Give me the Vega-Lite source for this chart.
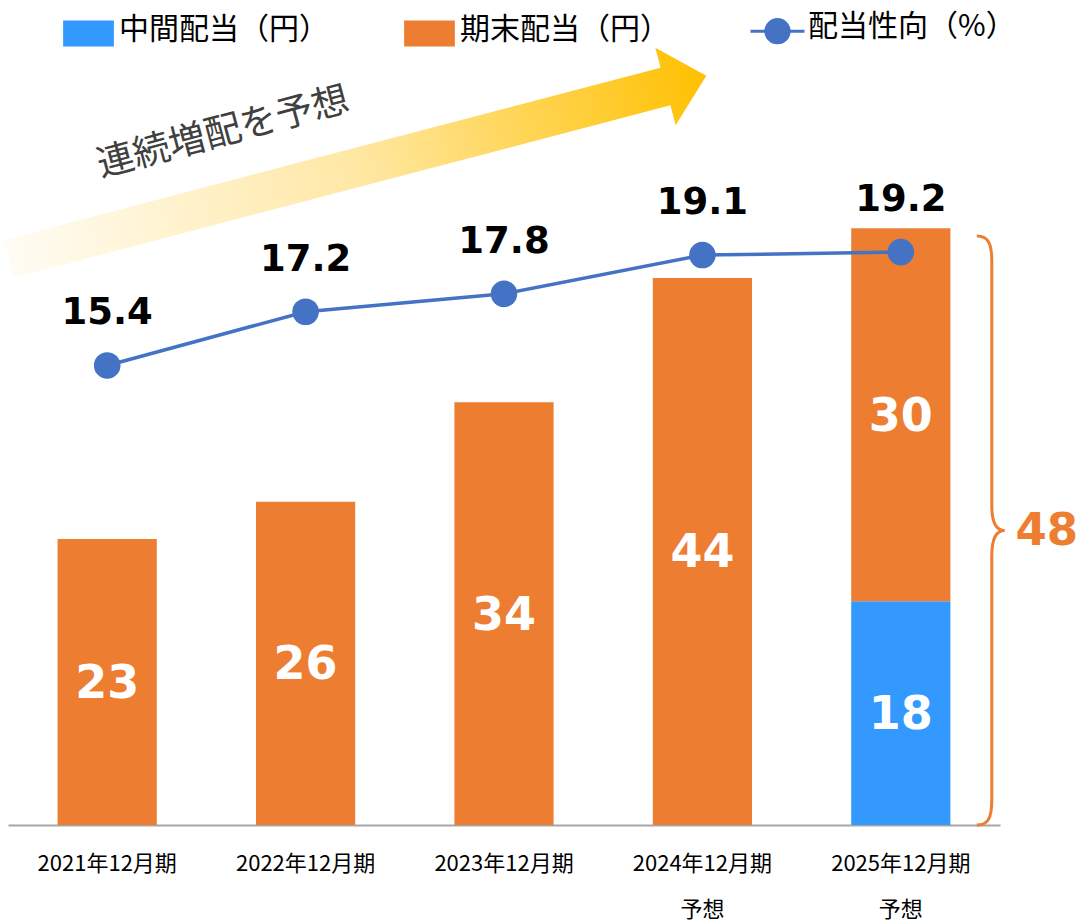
{
  "$schema": "https://vega.github.io/schema/vega-lite/v6.json",
  "width": 992,
  "height": 746,
  "autosize": {"type": "none"},
  "padding": {"left": 8, "top": 79, "right": 82, "bottom": 96},
  "background": "white",
  "config": {"view": {"stroke": null}},
  "datasets": {
    "bars": [
      {"period": "2021年12月期", "type": "期末配当（円）", "value": 23},
      {"period": "2022年12月期", "type": "期末配当（円）", "value": 26},
      {"period": "2023年12月期", "type": "期末配当（円）", "value": 34},
      {"period": "2024年12月期 予想", "type": "期末配当（円）", "value": 44},
      {"period": "2025年12月期 予想", "type": "中間配当（円）", "value": 18},
      {"period": "2025年12月期 予想", "type": "期末配当（円）", "value": 30}
    ],
    "ratio": [
      {"period": "2021年12月期", "ratio": 15.4},
      {"period": "2022年12月期", "ratio": 17.2},
      {"period": "2023年12月期", "ratio": 17.8},
      {"period": "2024年12月期 予想", "ratio": 19.1},
      {"period": "2025年12月期 予想", "ratio": 19.2}
    ],
    "total": [{"period": "2025年12月期 予想", "total": 48}],
    "note": [{"label": "連続増配を予想"}]
  },
  "layer": [
    {
      "layer": [
        {
          "data": {"name": "note"},
          "layer": [
            {
              "mark": {
                "type": "point",
                "shape": "M-1,-0.054L0.883,-0.054L0.883,-0.111L1,0L0.883,0.111L0.883,0.054L-1,0.054Z",
                "size": 519841,
                "angle": -14.7,
                "filled": true,
                "opacity": 1,
                "strokeWidth": 0,
                "xOffset": 52,
                "fill": {
                  "gradient": "linear",
                  "x1": 0, "y1": 0, "x2": 1, "y2": 0,
                  "stops": [
                    {"offset": 0, "color": "#FFFCF4"},
                    {"offset": 0.5, "color": "#FFE8A4"},
                    {"offset": 1, "color": "#FFC000"}
                  ]
                }
              },
              "encoding": {
                "x": {"datum": "2022年12月期", "type": "nominal"},
                "y": {"datum": 52.9, "type": "quantitative", "scale": {"domain": [0, 60], "nice": false}}
              }
            },
            {
              "mark": {
                "type": "text",
                "font": "Noto Sans CJK JP",
                "fontSize": 37,
                "color": "#404040",
                "angle": -15,
                "align": "center",
                "baseline": "middle",
                "xOffset": 116
              },
              "encoding": {
                "x": {"datum": "2021年12月期", "type": "nominal"},
                "y": {"datum": 55.66, "type": "quantitative", "scale": {"domain": [0, 60], "nice": false}},
                "text": {"field": "label", "type": "nominal"}
              }
            }
          ]
        },
        {
          "data": {"name": "bars"},
          "transform": [
            {"stack": "value", "groupby": ["period"], "sort": [{"field": "type", "order": "ascending"}], "as": ["v0", "v1"]},
            {"calculate": "(datum.v0 + datum.v1) / 2", "as": "mid"}
          ],
          "layer": [
            {
              "mark": {"type": "bar"},
              "encoding": {
                "x": {
                  "field": "period",
                  "type": "nominal",
                  "sort": null,
                  "scale": {
                    "domain": ["2021年12月期", "2022年12月期", "2023年12月期", "2024年12月期 予想", "2025年12月期 予想"],
                    "paddingInner": 0.5,
                    "paddingOuter": 0.25
                  },
                  "axis": {
                    "title": null,
                    "labelAngle": 0,
                    "labelAlign": "center",
                    "ticks": false,
                    "grid": false,
                    "domainColor": "#A6A6A6",
                    "domainWidth": 2,
                    "labelFont": "Noto Sans CJK JP",
                    "labelFontSize": 22,
                    "labelColor": "#000000",
                    "labelPadding": 38,
                    "labelLineHeight": 46,
                    "labelOverlap": false,
                    "labelLimit": 400,
                    "labelExpr": "split(datum.label, ' ')"
                  }
                },
                "y": {"field": "v1", "type": "quantitative", "scale": {"domain": [0, 60], "nice": false}, "axis": null},
                "y2": {"field": "v0"},
                "color": {
                  "field": "type",
                  "type": "nominal",
                  "scale": {
                    "domain": ["中間配当（円）", "期末配当（円）", "配当性向（%）"],
                    "range": ["#3399FF", "#ED7D31", "#4472C4"]
                  },
                  "legend": {
                    "orient": "none",
                    "direction": "horizontal",
                    "legendX": 65.5,
                    "legendY": -63,
                    "title": null,
                    "padding": 0,
                    "labelFont": "Noto Sans CJK JP",
                    "labelFontSize": 30,
                    "labelColor": "#000000",
                    "labelLimit": 400,
                    "labelOffset": 15.5,
                    "columnPadding": 74,
                    "symbolSize": 2916,
                    "symbolType": "M-0.94,-0.48H0.94V0.48H-0.94Z",
                    "encode": {
                      "labels": {
                        "update": {
                          "dy": {"value": -4}
                        }
                      },
                      "symbols": {
                        "update": {
                          "shape": {"signal": "datum.value === '配当性向（%）' ? 'M-1,0H1M0.43,0A0.43,0.43,0,1,1,-0.43,0A0.43,0.43,0,1,1,0.43,0Z' : 'M-0.94,-0.48H0.94V0.48H-0.94Z'"},
                          "fill": {"scale": "color", "field": "value"},
                          "stroke": {"scale": "color", "field": "value"},
                          "strokeWidth": {"signal": "datum.value === '配当性向（%）' ? 3 : 0"},
                          "opacity": {"value": 1},
                          "fillOpacity": {"value": 1}
                        }
                      }
                    }
                  }
                }
              }
            },
            {
              "mark": {"type": "text", "font": "DejaVu Sans", "fontWeight": "bold", "fontSize": 46, "color": "#FFFFFF", "baseline": "middle", "dy": 2},
              "encoding": {
                "x": {"field": "period", "type": "nominal"},
                "y": {"field": "mid", "type": "quantitative", "scale": {"domain": [0, 60], "nice": false}},
                "text": {"field": "value", "type": "quantitative"}
              }
            }
          ]
        },
        {
          "data": {"name": "total"},
          "transform": [{"calculate": "datum.total / 2", "as": "mid"}],
          "layer": [
            {
              "mark": {
                "type": "point",
                "shape": "M-0.051,-1C-0.015,-1,0,-0.98,0,-0.915L0,-0.085C0,-0.03,0.012,0,0.044,0C0.012,0,0,0.03,0,0.085L0,0.915C0,0.98,-0.015,1,-0.051,1",
                "size": 346921,
                "filled": false,
                "stroke": "#ED7D31",
                "strokeWidth": 3,
                "opacity": 1,
                "xOffset": 91,
                "yOffset": 4
              },
              "encoding": {
                "x": {"field": "period", "type": "nominal"},
                "y": {"field": "mid", "type": "quantitative", "scale": {"domain": [0, 60], "nice": false}}
              }
            },
            {
              "mark": {"type": "text", "font": "DejaVu Sans", "fontWeight": "bold", "fontSize": 45, "color": "#ED7D31", "baseline": "middle", "align": "center", "xOffset": 146, "dy": 4},
              "encoding": {
                "x": {"field": "period", "type": "nominal"},
                "y": {"field": "mid", "type": "quantitative", "scale": {"domain": [0, 60], "nice": false}},
                "text": {"field": "total", "type": "quantitative"}
              }
            }
          ]
        }
      ]
    },
    {
      "data": {"name": "ratio"},
      "layer": [
        {
          "mark": {"type": "line", "color": "#4472C4", "strokeWidth": 3.5},
          "encoding": {
            "x": {"field": "period", "type": "nominal"},
            "y": {"field": "ratio", "type": "quantitative", "scale": {"domain": [0, 25], "nice": false}, "axis": null}
          }
        },
        {
          "mark": {"type": "point", "filled": true, "color": "#4472C4", "size": 707, "opacity": 1},
          "encoding": {
            "x": {"field": "period", "type": "nominal"},
            "y": {"field": "ratio", "type": "quantitative"}
          }
        },
        {
          "mark": {"type": "text", "font": "DejaVu Sans", "fontWeight": "bold", "fontSize": 37, "color": "#000000", "baseline": "middle", "dy": -52},
          "encoding": {
            "x": {"field": "period", "type": "nominal"},
            "y": {"field": "ratio", "type": "quantitative"},
            "text": {"field": "ratio", "type": "quantitative", "format": ".1f"}
          }
        }
      ]
    }
  ],
  "resolve": {"scale": {"y": "independent"}}
}
